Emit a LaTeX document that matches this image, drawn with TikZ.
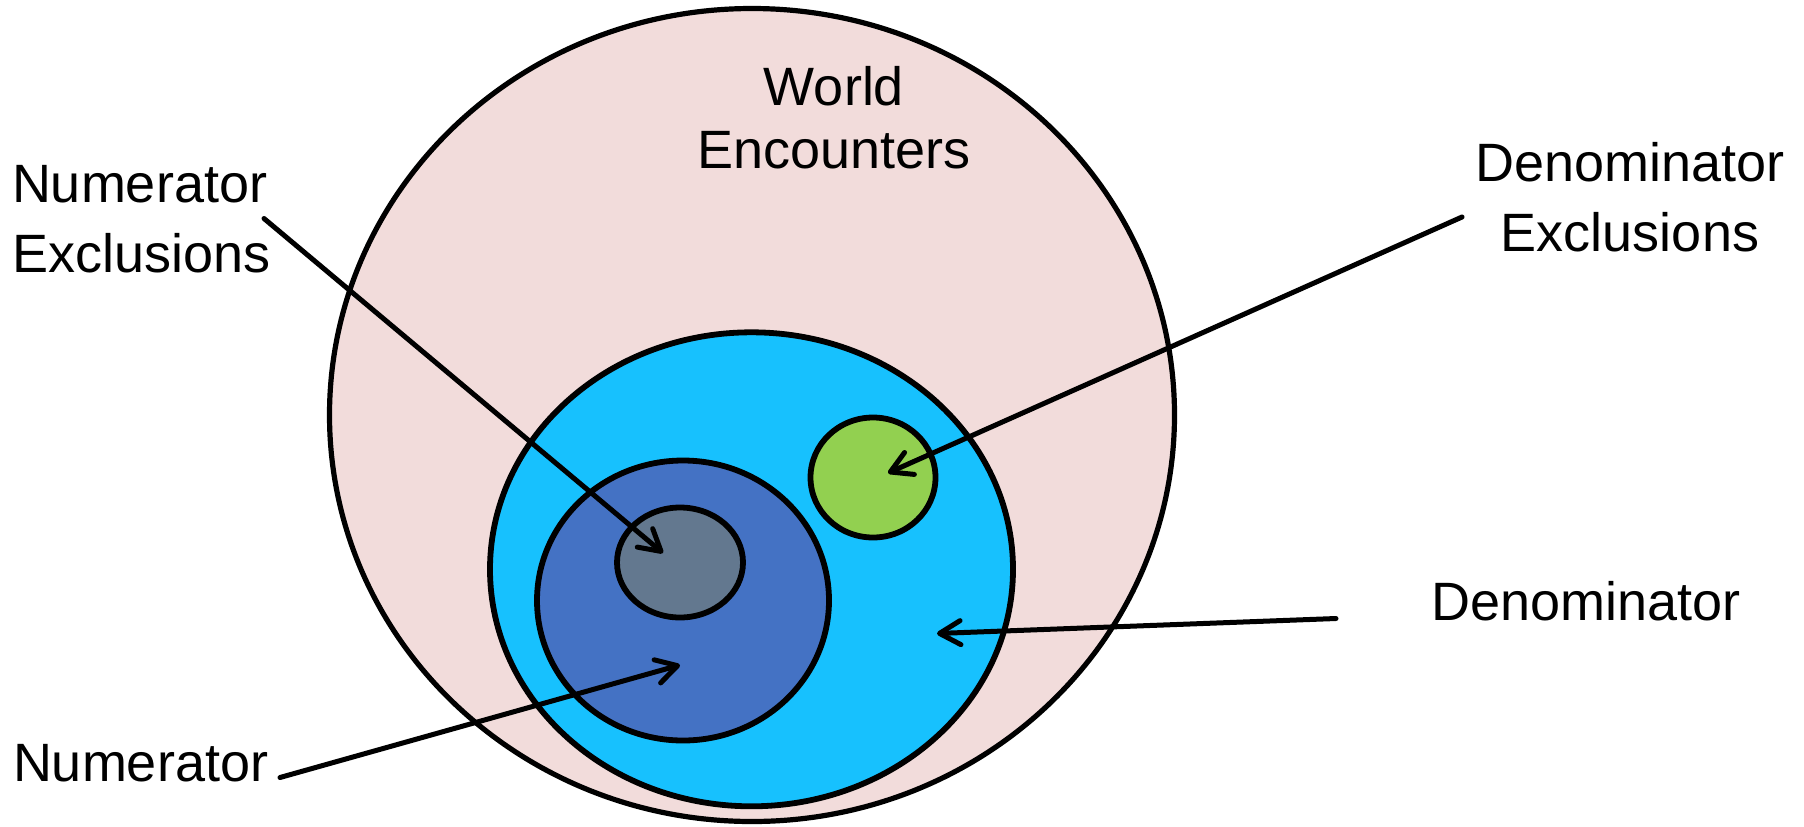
\documentclass[tikz,border=0pt]{standalone}
\usepackage{fontspec}
\setmainfont{Liberation Sans}
\usetikzlibrary{arrows.meta,shapes.geometric}
\definecolor{worldpink}{HTML}{F2DCDB}
\definecolor{denomcyan}{HTML}{17C1FE}
\definecolor{numerblue}{HTML}{4472C4}
\definecolor{numexgray}{HTML}{63788F}
\definecolor{denexgreen}{HTML}{92D050}
\begin{document}
\begin{tikzpicture}[x=0.5pt,y=-0.5pt,
  region/.style={ellipse, draw=black, line width=2.9pt, inner sep=0pt, outer sep=0pt},
  pointer/.style={draw=black, line width=2.5pt, line cap=round, -{Straight Barb[length=10.5pt,width=12pt,round]}},
  lbl/.style={inner sep=0pt, outer sep=0pt, font=\fontsize{27pt}{35pt}\selectfont}]
\useasboundingbox (0,0) rectangle (1804,826);
% regions
\node[region, line width=2.6pt, fill=worldpink, minimum width=422.5pt, minimum height=406.5pt] (world) at (752,415) {};
\node[region, fill=denomcyan, minimum width=261.5pt, minimum height=237pt] (denom) at (751.5,569.3) {};
\node[region, fill=numerblue, minimum width=146pt, minimum height=140pt] (numer) at (683,600.5) {};
\node[region, fill=numexgray, minimum width=63pt, minimum height=55pt] (numex) at (680,562.5) {};
\node[region, fill=denexgreen, minimum width=62.5pt, minimum height=60pt] (denex) at (873,477.5) {};
% labels
\node[lbl, anchor=base] (worldA) at (834,105) {World};
\node[lbl, anchor=base] (worldB) at (834,168.3) {Encounters};
\node[lbl, anchor=base west] (numexA) at (12,202) {Numerator};
\node[lbl, anchor=base west] (numexB) at (12,272) {Exclusions};
\node[lbl, anchor=base] (denexA) at (1630,181.7) {Denominator};
\node[lbl, anchor=base] (denexB) at (1630,251.7) {Exclusions};
\node[lbl, anchor=base west] (denomA) at (1431,620) {Denominator};
\node[lbl, anchor=base west] (numerA) at (13,781) {Numerator};
% connector ends
\coordinate (numexS) at (264,218.5);
\coordinate (numexT) at (663,553);
\coordinate (denexS) at (1462,217);
\coordinate (denexT) at (888,473);
\coordinate (denomS) at (1336,618.5);
\coordinate (denomT) at (937,633.5);
\coordinate (numerS) at (280,777.5);
\coordinate (numerT) at (680,665);
\draw[pointer] (numexS) -- (numexT);
\draw[pointer] (denexS) -- (denexT);
\draw[pointer] (denomS) -- (denomT);
\draw[pointer] (numerS) -- (numerT);
\end{tikzpicture}
\end{document}
